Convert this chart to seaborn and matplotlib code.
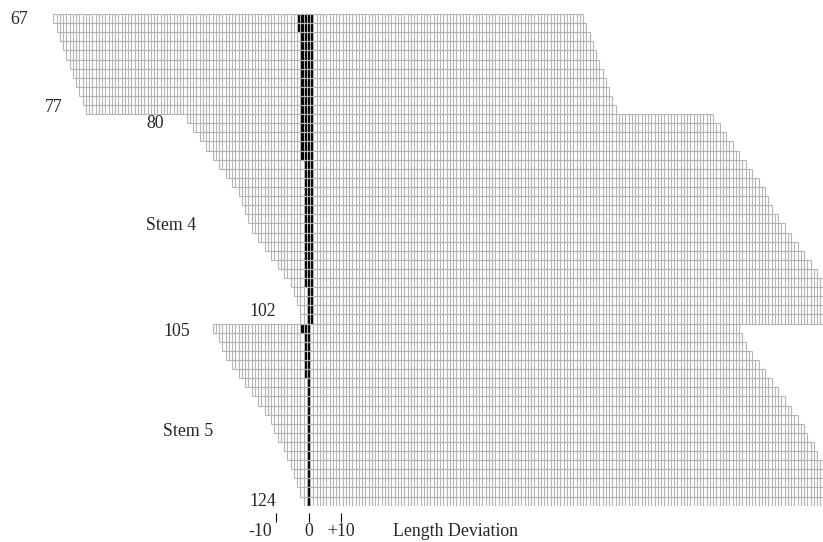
import numpy as np
import pandas as pd
import matplotlib
matplotlib.use("Agg")
import matplotlib.pyplot as plt
import seaborn as sns
from matplotlib.colors import ListedColormap

# === Donnees ===
# identifiants des lignes (trois blocs : 67-77, 80-102 / Stem 4, 105-124 / Stem 5)
row_ids = list(range(67, 78)) + list(range(80, 103)) + list(range(105, 125))

# premiere et derniere colonne (exclue) de chaque ligne, en unites de deviation
row_start = [-78, -77, -76, -75, -74, -73, -72, -71, -70, -69, -68,
             -37, -35, -33, -31, -29, -27, -25, -23, -21, -20, -19, -18,
             -17, -15, -13, -11, -9, -7, -5, -4, -3, -2, -2,
             -29, -27, -26, -25, -23, -21, -19, -17, -15, -13,
             -11, -10, -9, -7, -6, -5, -4, -3, -2, -1]
row_end = [85, 86, 87, 88, 89, 90, 91, 92, 93, 94, 95,
           125, 127, 129, 131, 133, 135, 137, 139, 141, 142, 143, 145,
           147, 149, 151, 153, 155, 157, 159, 159, 159, 159, 159,
           133, 134, 135, 137, 139, 141, 143, 145, 147, 149,
           151, 153, 154, 156, 157, 159, 159, 159, 159, 159]

# bloc noir (colonnes de -> a, inclus) autour de 0
black_lo = [-3, -3, -2, -2, -2, -2, -2, -2, -2, -2, -2,
            -2, -2, -2, -2, -2, -1, -1, -1, -1, -1, -1, -1,
            -1, -1, -1, -1, -1, -1, -1, 0, 0, 0, 0,
            -2, -1, -1, -1, -1, -1, 0, 0, 0, 0,
            0, 0, 0, 0, 0, 0, 0, 0, 0, 0]
black_hi = [1, 1, 1, 1, 1, 1, 1, 1, 1, 1, 1,
            1, 1, 1, 1, 1, 1, 1, 1, 1, 1, 1, 1,
            1, 1, 1, 1, 1, 1, 1, 1, 1, 1, 1,
            0, 0, 0, 0, 0, 0, 0, 0, 0, 0,
            0, 0, 0, 0, 0, 0, 0, 0, 0, 0]

col_min, col_max = -78, 158
tick_values = [-10, 0, 10]
tick_labels = ["-10", "0", "+10"]

# === Construire la matrice ===
cols = np.arange(col_min, col_max + 1)
mat = np.full((len(row_ids), len(cols)), np.nan)
for i in range(len(row_ids)):
    inside = (cols >= row_start[i]) & (cols < row_end[i])
    mat[i, inside] = 0
    noir = (cols >= black_lo[i]) & (cols <= black_hi[i]) & inside
    mat[i, noir] = 1
df = pd.DataFrame(mat, index=row_ids, columns=cols)

# === Figure ===
sns.set_style("white")
plt.rcParams["font.family"] = ["Liberation Serif", "DejaVu Serif"]

W, H = 823, 542
fig = plt.figure(figsize=(W / 100, H / 100), dpi=100)
top, bottom, left, right = 14, 505.7, 53.4, 823.6
ax = fig.add_axes([left / W, 1 - bottom / H, (right - left) / W, (bottom - top) / H])

sns.heatmap(df, cmap=ListedColormap(["white", "black"]), vmin=0, vmax=1,
            cbar=False, linewidths=0, xticklabels=False, yticklabels=False, ax=ax)
ax.axis("off")

# contours des cases, seulement sur l'etendue de chaque ligne
grid_col = "#b4b4b4"
for i in range(len(row_ids)):
    x0 = row_start[i] - col_min
    x1 = row_end[i] - col_min
    ax.vlines(np.arange(x0, x1 + 1), i, i + 1, colors=grid_col, lw=0.8)
    ax.hlines([i, i + 1], x0, x1, colors=grid_col, lw=0.8)

# petites graduations sous le graphique
tick_x = [v - col_min + 0.5 for v in tick_values]
ax.vlines(tick_x, 54.8, 55.8, colors="black", lw=0.8, clip_on=False)

fs = 12.8
# etiquettes des lignes
def px_text(x, y, s, ha="left"):
    fig.text(x / W, 1 - y / H, s, ha=ha, va="center", fontsize=fs)

px_text(10, 20, "67")
px_text(45, 107, "77")
px_text(146, 123, "80")
px_text(146, 226, "Stem 4")
px_text(249, 311, "102")
px_text(163, 331, "105")
px_text(163, 431, "Stem 5")
px_text(249, 501, "124")

label_px = [260, 309, 341]
for xp, lab in zip(label_px, tick_labels):
    px_text(xp, 532, lab, ha="center")
px_text(393, 532, "Length Deviation")

plt.savefig("out.png", dpi=100)
plt.close()
